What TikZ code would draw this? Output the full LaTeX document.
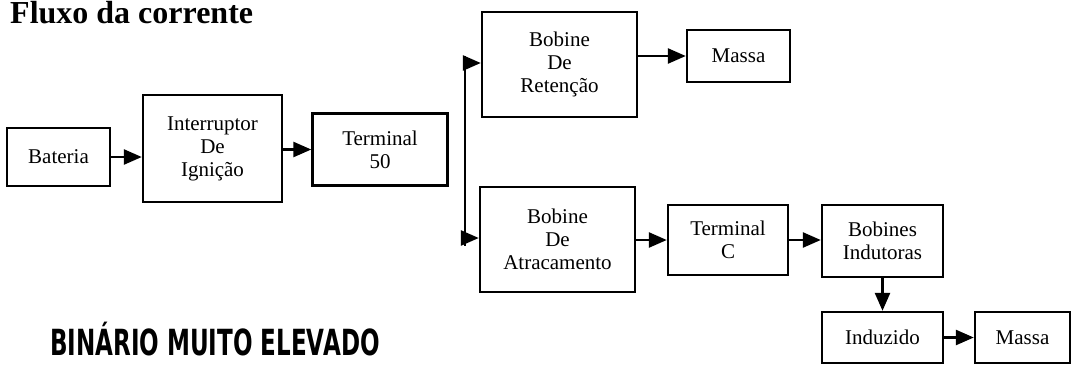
\documentclass[tikz,border=0pt]{standalone}
\usepackage{fontspec}
\setmainfont{Liberation Serif}
\newfontfamily\handfont{DejaVu Sans}
\usetikzlibrary{arrows.meta}
\begin{document}
\begin{tikzpicture}[x=1pt,y=-1pt,
  blk/.style={draw,line width=2.4pt,inner sep=0pt,align=center,
    font=\fontsize{21}{23}\selectfont},
  conn/.style={line width=2.6pt,-{Triangle[length=18pt,width=15pt]}},
  wire/.style={line width=2.6pt}]
\clip (0,0) rectangle (1072,365);
\fill[white] (0,0) rectangle (1072,365);
% title
\node[anchor=base west,inner sep=0pt,font=\fontsize{32}{34}\selectfont\bfseries] (title) at (10,23) {Fluxo da corrente};
% boxes
\node[blk,minimum width=103pt,minimum height=58pt] (bat) at (58.5,157) {Bateria};
\node[blk,minimum width=139pt,minimum height=107pt] (int) at (212.5,148.5) {Interruptor\\De\\Igni\c{c}\~ao};
\node[blk,minimum width=135pt,minimum height=72pt] (t50) at (380,149.5) {Terminal\\50};
\node[blk,minimum width=155pt,minimum height=105pt] (ret) at (559.5,64.5) {Bobine\\De\\Reten\c{c}\~ao};
\node[blk,minimum width=103pt,minimum height=52pt] (m1) at (738.5,56) {Massa};
\node[blk,minimum width=155pt,minimum height=105pt] (atr) at (557.5,239.5) {Bobine\\De\\Atracamento};
\node[blk,minimum width=120pt,minimum height=70pt] (tc) at (728,240) {Terminal\\C};
\node[blk,minimum width=121pt,minimum height=72pt] (bi) at (882.5,241) {Bobines\\Indutoras};
\node[blk,minimum width=121pt,minimum height=51pt] (ind) at (882.5,337.5) {Induzido};
\node[blk,minimum width=95pt,minimum height=51pt] (m2) at (1022.5,337.5) {Massa};
% connectors
\draw[conn] (bat.east) -- (bat.east -| int.west);
\draw[conn] (int.east |- t50.west) -- (t50.west);
\draw[conn] (ret.east |- m1.west) -- (m1.west);
\coordinate (vtop) at (465,56);
\coordinate (vbot) at (465,246);
\coordinate (va) at (465,63);
\coordinate (vb) at (465,238);
\draw[wire] (vtop) -- (vbot);
\draw[conn] (va) -- (va -| ret.west);
\draw[conn] (vb) -- (vb -| atr.west);
\draw[conn] (atr.east |- tc.west) -- (tc.west);
\draw[conn] (tc.east) -- (tc.east -| bi.west);
\draw[conn] (bi.south) -- (ind.north);
\draw[conn] (ind.east) -- (ind.east -| m2.west);
% handwritten note
\node[anchor=base west,inner sep=0pt,font=\handfont\bfseries\fontsize{36}{38}\selectfont,xscale=0.64,transform shape] (note) at (50,355) {BIN\'ARIO MUITO ELEVADO};
\end{tikzpicture}
\end{document}
